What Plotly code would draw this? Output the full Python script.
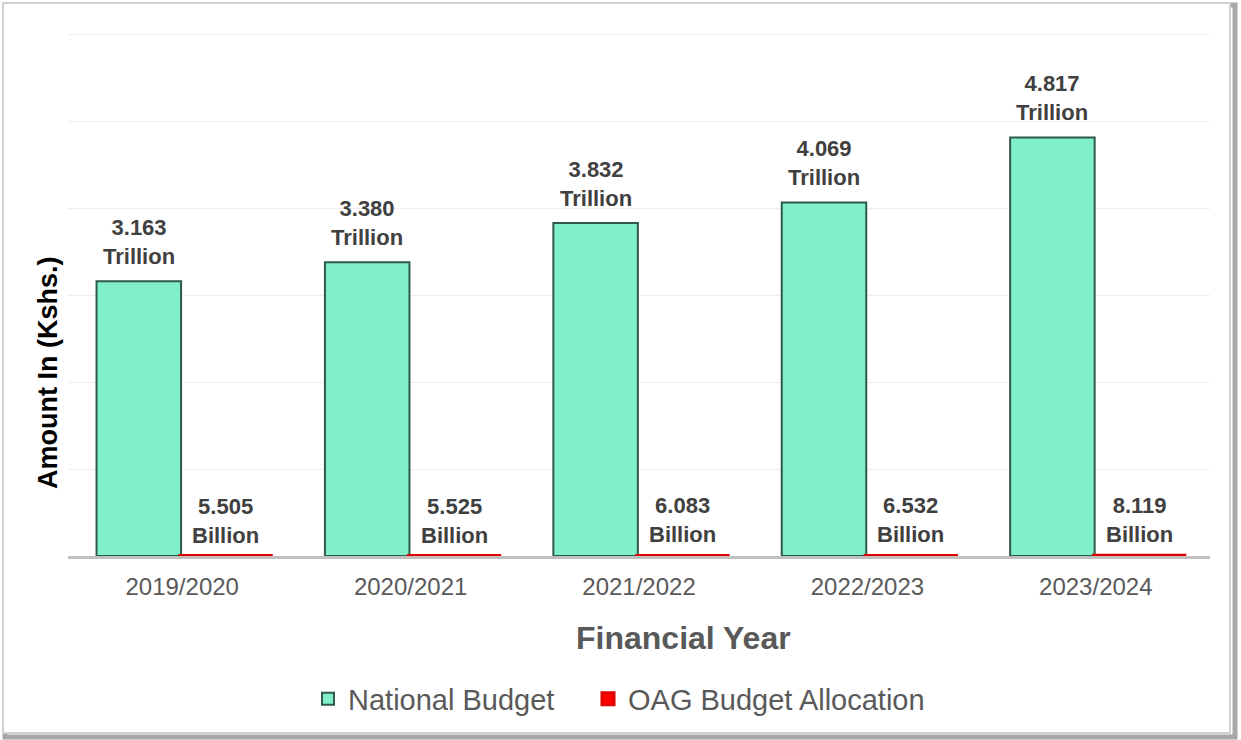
import plotly.graph_objects as go

# Financial years and budget figures
years = ["2019/2020", "2020/2021", "2021/2022", "2022/2023", "2023/2024"]
national_trillion = [3.163, 3.380, 3.832, 4.069, 4.817]
oag_billion = [5.505, 5.525, 6.083, 6.532, 8.119]

# Same axis for both series: billions expressed in trillions
oag_in_trillion = [v / 1000 for v in oag_billion]

national_text = [f"{v:.3f}<br>Trillion" for v in national_trillion]
oag_text = [f"{v:.3f}<br>Billion" for v in oag_billion]

FONT = "Arial, Liberation Sans, sans-serif"
W, H = 1241, 740
L, R, T, B = 68, 31, 32, 184
PW, PH = W - L - R, H - T - B

# bar placement inside each category slot (fractions of a slot)
NAT_OFFSET, NAT_WIDTH = -0.375, 0.37
OAG_OFFSET, OAG_WIDTH = -0.01, 0.40


def px_x(p):
    return (p - L) / PW


def px_y(p):
    return (H - B - p) / PH


fig = go.Figure()

fig.add_trace(go.Bar(
    x=years, y=national_trillion, name="National Budget",
    offset=NAT_OFFSET, width=NAT_WIDTH, legend="legend", showlegend=True,
    marker=dict(color="#80f0c8", line=dict(color="#2f5a4b", width=2)),
))

fig.add_trace(go.Bar(
    x=years, y=oag_in_trillion, name="OAG Budget Allocation",
    offset=OAG_OFFSET, width=OAG_WIDTH, legend="legend2", showlegend=True,
    marker=dict(color="#ff0000", line=dict(color="#e00000", width=3)),
))

# value labels above each bar
label_font = dict(family=FONT, size=22, color="#404040")
for i, (v, t) in enumerate(zip(national_trillion, national_text)):
    fig.add_annotation(x=i + NAT_OFFSET + NAT_WIDTH / 2, y=v, text=f"<b>{t}</b>",
                       showarrow=False, yanchor="bottom", yshift=10,
                       font=label_font)
for i, (v, t) in enumerate(zip(oag_in_trillion, oag_text)):
    fig.add_annotation(x=i + OAG_OFFSET + OAG_WIDTH / 2, y=v, text=f"<b>{t}</b>",
                       showarrow=False, yanchor="bottom", yshift=6,
                       font=label_font)

# Outer frame with a soft grey shadow
fig.add_shape(type="rect", xref="paper", yref="paper",
              x0=px_x(5), x1=px_x(1235), y0=px_y(737), y1=px_y(5),
              line=dict(color="#a8a8a8", width=5), layer="below")
fig.add_shape(type="rect", xref="paper", yref="paper",
              x0=px_x(3), x1=px_x(1230), y0=px_y(733), y1=px_y(3),
              line=dict(color="#d0d0d0", width=2), fillcolor="white", layer="below")

fig.add_annotation(text="<b>Amount In (Kshs.)</b>", xref="paper", yref="paper",
                   x=px_x(48), y=px_y(373), xanchor="center", yanchor="middle",
                   textangle=-90, showarrow=False,
                   font=dict(family=FONT, size=27, color="#000000"))
fig.add_annotation(text="<b>Financial Year</b>", xref="paper", yref="paper",
                   x=px_x(683), y=px_y(638), xanchor="center", yanchor="middle",
                   showarrow=False,
                   font=dict(family=FONT, size=32, color="#595959"))

legend_font = dict(family=FONT, size=29, color="#595959")

fig.update_layout(
    width=W, height=H,
    margin=dict(l=L, r=R, t=T, b=B),
    paper_bgcolor="white", plot_bgcolor="rgba(0,0,0,0)",
    barmode="overlay", showlegend=True,
    font=dict(family=FONT, color="#595959"),
    legend=dict(orientation="h", x=px_x(560), xanchor="right",
                y=px_y(699), yanchor="middle", font=legend_font,
                itemwidth=30, bgcolor="rgba(0,0,0,0)"),
    legend2=dict(orientation="h", x=px_x(588), xanchor="left",
                 y=px_y(699), yanchor="middle", font=legend_font,
                 itemwidth=30, bgcolor="rgba(0,0,0,0)"),
    xaxis=dict(showgrid=False, showline=True, linecolor="#c0c0c0", linewidth=3,
               tickfont=dict(family=FONT, size=24, color="#595959"),
               ticks="", ticklabelstandoff=7),
    yaxis=dict(range=[0, 6.03], tickvals=[1, 2, 3, 4, 5, 6], showticklabels=False,
               showgrid=True, gridcolor="#ededed", gridwidth=1, zeroline=False),
)

fig.write_html("out.html")
